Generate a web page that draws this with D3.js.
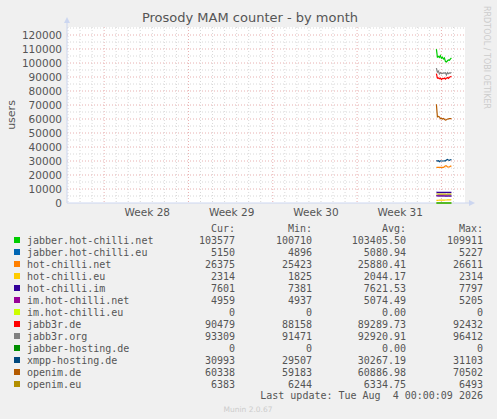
<!DOCTYPE html><html><head><meta charset="utf-8">
<script src="https://d3js.org/d3.v7.min.js"></script>
<style>body{margin:0;background:#f0f0f0}</style></head><body>
<svg id="c" width="497" height="419"></svg>
<script>
const names=["jabber.hot-chilli.net","jabber.hot-chilli.eu","hot-chilli.net","hot-chilli.eu","hot-chilli.im","im.hot-chilli.net","im.hot-chilli.eu","jabb3r.de","jabb3r.org","jabber-hosting.de","xmpp-hosting.de","openim.de","openim.eu"];
const colors=["#00cc00","#0066b3","#ff8000","#ffcc00","#330099","#990099","#ccff00","#ff0000","#808080","#008f00","#00487d","#b35a00","#b38f00"];
const cur=["103577","5150","26375","2314","7601","4959","0","90479","93309","0","30993","60338","6383"];
const mins=["100710","4896","25423","1825","7381","4937","0","88158","91471","0","29507","59183","6244"];
const avgs=["103405.50","5080.94","25880.41","2044.17","7621.53","5074.49","0.00","89289.73","92920.91","0.00","30267.19","60886.98","6334.75"];
const maxs=["109911","5227","26611","2314","7797","5205","0","92432","96412","0","31103","70502","6493"];
const yTicks=[0,10000,20000,30000,40000,50000,60000,70000,80000,90000,100000,110000,120000];
const weekLabels=["Week 28","Week 29","Week 30","Week 31"];
// samples every 2h from Aug 2 14:00
const series=[
[109911,104200,104800,104000,105200,103400,104100,102800,103600,101200,100710,101600,102200,101900,103000,103577],
[5227,5180,5150,5100,5120,5080,5060,5050,5000,4960,4896,4950,5020,5080,5120,5150],
[25500,25450,25423,25450,25480,25500,25480,25500,25900,26611,26611,25800,25700,25750,26300,26375],
[1825,1900,1950,2000,2000,2050,2050,2100,2100,2150,2150,2200,2200,2250,2300,2314],
[7797,7650,7620,7610,7600,7600,7610,7600,7620,7610,7600,7600,7601,7600,7600,7601],
[5205,5100,5080,5070,5060,5060,5060,5050,5050,5050,5050,5040,5000,4980,4960,4959],
[0,0,0,0,0,0,0,0,0,0,0,0,0,0,0,0],
[92432,89200,89400,88700,89200,88158,88900,88800,89300,88500,89200,89600,89000,89800,90200,90479],
[96412,93500,94200,92200,93100,92500,92600,93000,92800,93100,91471,93200,92400,93000,92800,93309],
[0,0,0,0,0,0,0,0,0,0,0,0,0,0,0,0],
[30300,29900,30200,29507,30100,30000,30000,30000,30100,30150,30700,31103,30700,30500,30900,30993],
[70502,61500,61800,61400,60300,60500,60000,60400,59800,59183,59500,60000,60100,60300,60338,60338],
[6493,6420,6400,6380,6360,6350,6340,6330,6310,6300,6244,6280,6320,6350,6370,6383]];
const t0=new Date(2026,7,2,14);
const times=series[0].map((d,i)=>new Date(+t0+i*2*3600e3));

const svg=d3.select("#c");
const L=67,R=465,T=27,B=203;
const x=d3.scaleTime().domain([new Date(2026,6,2,22),new Date(2026,7,4,23)]).range([L,R]);
const y=d3.scaleLinear().domain([0,125000]).range([B,B-175]);
svg.append("rect").attr("x",L).attr("y",T).attr("width",R-L).attr("height",B-T).attr("fill","#fff");
const days=d3.timeDay.range(x.domain()[0],x.domain()[1]);
days.forEach(d=>{const mon=d.getDay()===1;
 svg.append("line").attr("x1",x(d)).attr("x2",x(d)).attr("y1",T).attr("y2",B)
  .attr("stroke",mon?"#e8b0b0":"#d8d8d8").attr("stroke-dasharray","1,2");});
d3.range(5000,125001,5000).forEach(v=>{const maj=v%10000===0;
 svg.append("line").attr("x1",L).attr("x2",R).attr("y1",y(v)).attr("y2",y(v))
  .attr("stroke",maj?"#e8b0b0":"#d8d8d8").attr("stroke-dasharray","1,2");});
svg.append("line").attr("x1",L).attr("x2",R+5).attr("y1",B).attr("y2",B).attr("stroke","#ccd6f0");
svg.append("line").attr("x1",L).attr("x2",L).attr("y1",B).attr("y2",T-5).attr("stroke","#ccd6f0");
svg.append("path").attr("d",`M${R+4},${B-3}L${R+10},${B}L${R+4},${B+3}Z`).attr("fill","#ccd6f0");
svg.append("path").attr("d",`M${L-3},${T-4}L${L},${T-10}L${L+3},${T-4}Z`).attr("fill","#ccd6f0");
const ax=svg.append("g").attr("font-family","DejaVu Sans").attr("font-size","10.5px").attr("fill","#555");
yTicks.forEach(v=>ax.append("text").attr("x",L-5).attr("y",y(v)+4).attr("text-anchor","end").text(v));
weekLabels.forEach((w,i)=>{const mid=new Date(2026,6,9+7*i,14);
 ax.append("text").attr("x",x(mid)).attr("y",B+13).attr("text-anchor","middle").text(w);});
ax.append("text").attr("transform","translate(15,115) rotate(-90)").attr("text-anchor","middle").attr("font-size","11px").text("users");
svg.append("text").attr("x",250).attr("y",22).attr("text-anchor","middle").attr("font-family","DejaVu Sans").attr("font-size","13px").attr("fill","#555").text("Prosody MAM counter - by month");
svg.append("text").attr("transform","translate(484,6) rotate(90)").attr("font-family","DejaVu Sans").attr("font-size","8px").attr("fill","#ccc").text("RRDTOOL / TOBI OETIKER");
const line=d3.line().x((d,i)=>x(times[i])).y(d=>y(d));
series.forEach((s,i)=>svg.append("path").attr("d",line(s)).attr("fill","none").attr("stroke",colors[i]).attr("stroke-width",1.2));
const lg=svg.append("g").attr("font-family","DejaVu Sans Mono").attr("font-size","10px").attr("fill","#555");
const cols=[235,312,406,483];
["Cur:","Min:","Avg:","Max:"].forEach((h,j)=>lg.append("text").attr("x",cols[j]).attr("y",232).attr("text-anchor","end").text(h));
names.forEach((n,i)=>{const yy=244+i*12;
 lg.append("rect").attr("x",14).attr("y",yy-7).attr("width",6).attr("height",6).attr("fill",colors[i]);
 lg.append("text").attr("x",27).attr("y",yy).text(n);
 [cur,mins,avgs,maxs].forEach((a,j)=>lg.append("text").attr("x",cols[j]).attr("y",yy).attr("text-anchor","end").text(a[i]));});
lg.append("text").attr("x",483).attr("y",399).attr("text-anchor","end").attr("xml:space","preserve").text("Last update: Tue Aug  4 00:00:09 2026");
svg.append("text").attr("x",248).attr("y",412).attr("text-anchor","middle").attr("font-family","DejaVu Sans").attr("font-size","7.5px").attr("fill","#ccc").text("Munin 2.0.67");
</script></body></html>
